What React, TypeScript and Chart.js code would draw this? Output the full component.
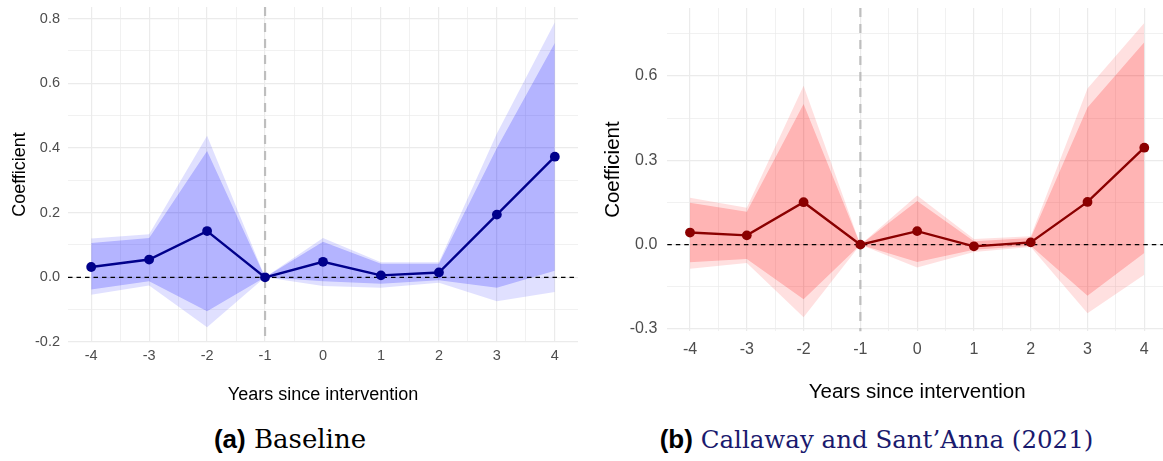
import React, { useEffect, useRef } from "react";
import { Chart, registerables } from "chart.js";

Chart.register(...registerables);

// ---------- data ----------
const years = [-4, -3, -2, -1, 0, 1, 2, 3, 4];

// (a) Baseline
const baseCoef = [0.032, 0.055, 0.143, 0, 0.048, 0.006, 0.015, 0.194, 0.373];
const baseInnerHi = [0.106, 0.122, 0.391, 0, 0.11, 0.042, 0.042, 0.4, 0.725];
const baseInnerLo = [-0.038, -0.012, -0.105, 0, -0.012, -0.02, -0.009, -0.032, 0.02];
const baseOuterHi = [0.12, 0.133, 0.438, 0, 0.122, 0.047, 0.047, 0.445, 0.789];
const baseOuterLo = [-0.054, -0.025, -0.154, 0, -0.027, -0.032, -0.017, -0.074, -0.045];

// (b) Callaway and Sant'Anna (2021)
const csCoef = [0.043, 0.033, 0.151, 0, 0.048, -0.006, 0.008, 0.152, 0.345];
const csInnerHi = [0.149, 0.117, 0.5, 0, 0.155, 0.012, 0.024, 0.488, 0.72];
const csInnerLo = [-0.063, -0.051, -0.194, 0, -0.062, -0.018, -0.004, -0.182, -0.03];
const csOuterHi = [0.167, 0.131, 0.565, 0, 0.175, 0.02, 0.03, 0.556, 0.789];
const csOuterLo = [-0.086, -0.065, -0.258, 0, -0.081, -0.026, -0.008, -0.244, -0.107];

// ticks
const xTicks = [-4, -3.5, -3, -2.5, -2, -1.5, -1, -0.5, 0, 0.5, 1, 1.5, 2, 2.5, 3, 3.5, 4];
const xTickLabels = ["-4", "", "-3", "", "-2", "", "-1", "", "0", "", "1", "", "2", "", "3", "", "4"];
const leftYTicks = [-0.2, -0.1, 0, 0.1, 0.2, 0.3, 0.4, 0.5, 0.6, 0.7, 0.8];
const leftYTickLabels = ["-0.2", "", "0.0", "", "0.2", "", "0.4", "", "0.6", "", "0.8"];
const rightYTicks = [-0.3, -0.15, 0, 0.15, 0.3, 0.45, 0.6, 0.75];
const rightYTickLabels = ["-0.3", "", "0.0", "", "0.3", "", "0.6", ""];

const eventYear = -1;
const zeroLine = 0;

const xLabel = "Years since intervention";
const yLabel = "Coefficient";

// ---------- chart ----------
type PanelProps = {
  coef: number[];
  innerHi: number[];
  innerLo: number[];
  outerHi: number[];
  outerLo: number[];
  lineColor: string;
  innerFill: string;
  outerFill: string;
  xMin: number;
  xMax: number;
  yMin: number;
  yMax: number;
  yTicks: number[];
  yTickLabels: string[];
  width: number;
  height: number;
  left: number;
  padTop: number;
  padRight: number;
  yAxisWidth: number;
  xAxisHeight: number;
  tickSize: number;
  titleSize: number;
  xTickPad: number;
  yTickPad: number;
  xTitlePad: number;
  yTitlePad: number;
};

const refLines = {
  id: "refLines",
  beforeDatasetDraw(chart: any, args: any) {
    if (args.index !== 0) return;
    const { ctx, chartArea: a, scales } = chart;
    ctx.save();
    const vx = scales.x.getPixelForValue(eventYear);
    ctx.strokeStyle = "#bebebe";
    ctx.lineWidth = 2.2;
    ctx.setLineDash([9, 7]);
    ctx.beginPath();
    ctx.moveTo(vx, a.top);
    ctx.lineTo(vx, a.bottom);
    ctx.stroke();
    const hy = scales.y.getPixelForValue(zeroLine);
    ctx.strokeStyle = "#000000";
    ctx.lineWidth = 1.1;
    ctx.setLineDash([4.5, 4]);
    ctx.beginPath();
    ctx.moveTo(a.left, hy);
    ctx.lineTo(a.right, hy);
    ctx.stroke();
    ctx.restore();
  },
};

function Panel(p: PanelProps) {
  const ref = useRef<HTMLCanvasElement | null>(null);
  useEffect(() => {
    if (!ref.current) return;
    const pts = (arr: number[]) => years.map((x, i) => ({ x, y: arr[i] }));
    const band = (arr: number[], fill: any, bg: string, order: number) => ({
      data: pts(arr),
      borderColor: "rgba(0,0,0,0)",
      borderWidth: 0,
      pointRadius: 0,
      pointHoverRadius: 0,
      backgroundColor: bg,
      fill,
      order,
      tension: 0,
    });
    const tickFont = { family: "Liberation Sans", size: p.tickSize };
    const titleFont = { family: "Liberation Sans", size: p.titleSize };
    const chart = new Chart(ref.current, {
      type: "line",
      data: {
        datasets: [
          {
            data: pts(p.coef),
            borderColor: p.lineColor,
            backgroundColor: p.lineColor,
            borderWidth: 2.4,
            pointRadius: 4.9,
            pointHoverRadius: 4.9,
            pointBorderWidth: 0,
            fill: false,
            order: 0,
            tension: 0,
          },
          band(p.innerHi, "+1", p.innerFill, 1),
          band(p.innerLo, false, p.innerFill, 1),
          band(p.outerHi, "+1", p.outerFill, 2),
          band(p.outerLo, false, p.outerFill, 2),
        ] as any,
      },
      options: {
        animation: false,
        responsive: false,
        maintainAspectRatio: false,
        events: [],
        layout: {
          autoPadding: false,
          padding: { left: 0, top: p.padTop, right: p.padRight, bottom: 0 },
        } as any,
        plugins: {
          legend: { display: false },
          tooltip: { enabled: false },
          title: { display: false },
        },
        scales: {
          x: {
            type: "linear",
            min: p.xMin,
            max: p.xMax,
            afterBuildTicks: (s: any) => {
              s.ticks = xTicks.map((v) => ({ value: v }));
            },
            afterFit: (s: any) => {
              s.height = p.xAxisHeight;
              s.paddingLeft = 0;
              s.paddingRight = 0;
            },
            ticks: {
              autoSkip: false,
              maxRotation: 0,
              color: "#4d4d4d",
              font: tickFont,
              padding: p.xTickPad,
              callback: (_v: any, i: number) => xTickLabels[i],
            },
            grid: {
              color: "#ebebeb",
              lineWidth: (c: any) => (xTickLabels[c.index] ? 1.2 : 0.7),
              drawTicks: false,
            },
            border: { display: false },
            title: {
              display: true,
              text: xLabel,
              color: "#000000",
              font: titleFont,
              padding: { top: 0, bottom: p.xTitlePad },
            },
          },
          y: {
            type: "linear",
            min: p.yMin,
            max: p.yMax,
            afterBuildTicks: (s: any) => {
              s.ticks = p.yTicks.map((v) => ({ value: v }));
            },
            afterFit: (s: any) => {
              s.width = p.yAxisWidth;
              s.paddingTop = 0;
              s.paddingBottom = 0;
            },
            ticks: {
              autoSkip: false,
              color: "#4d4d4d",
              font: tickFont,
              padding: p.yTickPad,
              callback: (_v: any, i: number) => p.yTickLabels[i],
            },
            grid: {
              color: "#ebebeb",
              lineWidth: (c: any) => (p.yTickLabels[c.index] ? 1.2 : 0.7),
              drawTicks: false,
            },
            border: { display: false },
            title: {
              display: true,
              text: yLabel,
              color: "#000000",
              font: titleFont,
              padding: { top: p.yTitlePad, bottom: 0 },
            },
          },
        },
      } as any,
      plugins: [refLines],
    });
    return () => chart.destroy();
  }, []);
  return (
    <canvas
      ref={ref}
      width={p.width}
      height={p.height}
      style={{
        position: "absolute",
        left: p.left,
        top: 0,
        width: p.width,
        height: p.height,
      }}
    />
  );
}

export default function App() {
  return (
    <div
      style={{
        position: "absolute",
        left: 0,
        top: 0,
        width: 1163,
        height: 461,
        overflow: "hidden",
        background: "#ffffff",
      }}
    >
      <Panel
        coef={baseCoef}
        innerHi={baseInnerHi}
        innerLo={baseInnerLo}
        outerHi={baseOuterHi}
        outerLo={baseOuterLo}
        lineColor="#00008b"
        innerFill="rgba(0,0,255,0.2)"
        outerFill="rgba(0,0,255,0.12)"
        xMin={-4.4}
        xMax={4.4}
        yMin={-0.2}
        yMax={0.836}
        yTicks={leftYTicks}
        yTickLabels={leftYTickLabels}
        width={585}
        height={410}
        left={0}
        padTop={7}
        padRight={7}
        yAxisWidth={68}
        xAxisHeight={68}
        tickSize={14.5}
        titleSize={18}
        xTickPad={5.3}
        yTickPad={8}
        xTitlePad={4.2}
        yTitlePad={9.2}
      />
      <Panel
        coef={csCoef}
        innerHi={csInnerHi}
        innerLo={csInnerLo}
        outerHi={csOuterHi}
        outerLo={csOuterLo}
        lineColor="#8b0000"
        innerFill="rgba(255,0,0,0.2)"
        outerFill="rgba(255,0,0,0.12)"
        xMin={-4.4}
        xMax={4.4}
        yMin={-0.308}
        yMax={0.842}
        yTicks={rightYTicks}
        yTickLabels={rightYTickLabels}
        width={582}
        height={410}
        left={590}
        padTop={8}
        padRight={5}
        yAxisWidth={77.3}
        xAxisHeight={78.8}
        tickSize={16}
        titleSize={20.5}
        xTickPad={8.5}
        yTickPad={10}
        xTitlePad={5}
        yTitlePad={11.2}
      />
      <div
        style={{
          position: "absolute",
          left: 0,
          width: 580,
          top: 423,
          textAlign: "center",
          whiteSpace: "nowrap",
          lineHeight: "32px",
        }}
      >
        <span style={{ fontFamily: "Liberation Sans", fontWeight: "bold", fontSize: 26 }}>(a)</span>
        <span style={{ fontFamily: "DejaVu Serif", fontSize: 26 }}> Baseline</span>
      </div>
      <div
        style={{
          position: "absolute",
          left: 590,
          width: 573,
          top: 423,
          textAlign: "center",
          whiteSpace: "nowrap",
          lineHeight: "32px",
        }}
      >
        <span style={{ fontFamily: "Liberation Sans", fontWeight: "bold", fontSize: 26 }}>(b)</span>
        <span style={{ fontFamily: "DejaVu Serif", fontSize: 24.5, color: "#1a1a6e" }}>
          {" "}Callaway and Sant’Anna (2021)
        </span>
      </div>
    </div>
  );
}
